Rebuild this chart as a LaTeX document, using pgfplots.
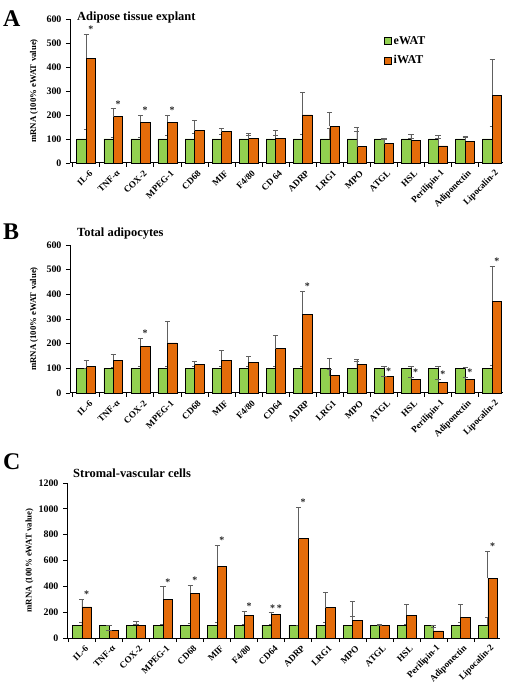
\documentclass[border=0pt]{standalone}
\usepackage{fontspec}
\setmainfont{Liberation Serif}
\usepackage{pgfplots}
\usepackage{pgfplotstable}
\pgfplotsset{compat=1.18}
\definecolor{egreen}{HTML}{92D050}
\definecolor{iorange}{HTML}{E46C0A}
\definecolor{errgray}{HTML}{606060}

\pgfplotstableread{
x e ee i ie
0 100 40 437 100
1 100 8 193 33
2 100 5 170 30
3 100 17 170 30
4 100 22 135 41
5 100 20 130 15
6 100 17 102 20
7 100 17 104 31
8 100 20 200 94
9 100 45 153 60
10 100 50 68 65
11 100 3 80 19
12 100 2 94 24
13 100 16 71 30
14 100 13 90 18
15 100 52 283 150
}\tabA

\pgfplotstableread{
x e ee i ie
0 100 0 107 26
1 100 3 132 25
2 100 8 190 32
3 100 10 203 87
4 100 8 115 15
5 100 7 132 40
6 100 10 124 25
7 100 8 180 52
8 100 7 320 93
9 100 41 70 25
10 100 38 116 12
11 100 8 68 0
12 100 7 56 7
13 100 7 43 14
14 100 2 56 7
15 100 12 372 143
}\tabB

\pgfplotstableread{
x e ee i ie
0 100 20 240 60
1 97 0 60 0
2 100 5 100 30
3 100 8 300 97
4 100 12 348 62
5 100 20 555 160
6 100 3 175 33
7 100 3 185 10
8 100 0 770 243
9 100 20 235 120
10 100 70 138 145
11 100 3 95 0
12 100 7 175 85
13 100 0 55 30
14 100 25 160 98
15 100 58 462 211
}\tabC

\pgfplotsset{
  panel/.style={
    scale only axis,
    width=433bp,
    anchor=south west,
    axis x line*=bottom,
    axis y line*=left,
    axis line style={-, line width=1bp, black},
    xmin=-0.6, xmax=15.4,
    ymin=0,
    xtick={0,...,15},
    minor xtick={-0.5,0.5,...,15.5},
    tick align=outside,
    major tick length=4bp,
    minor tick length=4bp,
    every tick/.style={black, line width=0.9bp},
    every major x tick/.append style={draw=none},
    /pgf/number format/assume math mode=true,
    /pgf/number format/1000 sep={},
    yticklabel style={font=\bfseries\fontsize{10}{10}\selectfont, xshift=-1bp},
    xticklabel style={font=\bfseries\fontsize{9.2}{10}\selectfont, rotate=45, anchor=east, inner sep=1bp, yshift=-7bp, xshift=1bp},
    ylabel={mRNA (100\% eWAT value)},
    every axis y label/.style={at={(axis description cs:-0.066,0.5)}, rotate=90, anchor=south, font=\bfseries\fontsize{8.8}{10}\selectfont},
    bar width=0.35,
    clip=false,
  },
  ebars/.style={
    error bars/.cd, y dir=plus, y explicit,
    error bar style={color=errgray, line width=0.7bp},
    error mark options={rotate=90, mark size=2.6bp, line width=0.7bp, color=errgray},
  },
  stars/.style={
    draw=none, mark=none, forget plot,
    nodes near coords, point meta=explicit symbolic,
    every node near coord/.style={anchor=south, inner sep=1.5bp, font=\bfseries\fontsize{10}{10}\selectfont, text=black!85},
  },
}

\begin{document}
\begin{tikzpicture}
\path[use as bounding box] (0bp,0bp) rectangle (510bp,692bp);

% Panel letters and titles
\node[anchor=base west, inner sep=0, font=\bfseries\fontsize{24}{24}\selectfont] at (3bp,665bp) {A};
\node[anchor=base west, inner sep=0, font=\bfseries\fontsize{12.5}{13}\selectfont] at (77bp,671bp) {Adipose tissue explant};
\node[anchor=base west, inner sep=0, font=\bfseries\fontsize{24}{24}\selectfont] at (3bp,452bp) {B};
\node[anchor=base west, inner sep=0, font=\bfseries\fontsize{12.5}{13}\selectfont] at (77bp,455bp) {Total adipocytes};
\node[anchor=base west, inner sep=0, font=\bfseries\fontsize{24}{24}\selectfont] at (3bp,222bp) {C};
\node[anchor=base west, inner sep=0, font=\bfseries\fontsize{12.5}{13}\selectfont] at (73bp,214bp) {Stromal-vascular cells};

% Panel A
\begin{axis}[panel, at={(70bp,529bp)}, height=144bp, ymax=600, ytick={0,100,...,600},
  xticklabels={IL-6,TNF-α,COX-2,MPEG-1,CD68,MIF,F4/80,CD 64,ADRP,LRG1,MPO,ATGL,HSL,Perilipin-1,Adiponectin,Lipocalin-2},
  legend style={at={(rel axis cs:0.725,0.895)}, anchor=north west, draw=none, fill=none,
    font=\bfseries\fontsize{12}{13}\selectfont, row sep=6bp, inner sep=0pt},
  legend cell align=left,
  legend image code/.code={\draw[#1,draw=black,line width=0.6bp] (0bp,-3.5bp) rectangle (7bp,3.5bp);},
]
\addplot[ybar, bar shift=-0.175, fill=egreen, draw=black, line width=0.6bp, ebars] table[x=x, y=e, y error=ee] {\tabA};
\addplot[ybar, bar shift=0.175, fill=iorange, draw=black, line width=0.6bp, ebars] table[x=x, y=i, y error=ie] {\tabA};
\legend{eWAT,iWAT}
\addplot[stars] coordinates {(0.175,537)[*] (1.175,226)[*] (2.175,200)[*] (3.175,200)[*]};
\end{axis}

% Panel B
\begin{axis}[panel, at={(70bp,299bp)}, height=148bp, ymax=600, ytick={0,100,...,600},
  xticklabels={IL-6,TNF-α,COX-2,MPEG-1,CD68,MIF,F4/80,CD64,ADRP,LRG1,MPO,ATGL,HSL,Perilipin-1,Adiponectin,Lipocalin-2},
]
\addplot[ybar, bar shift=-0.175, fill=egreen, draw=black, line width=0.6bp, ebars] table[x=x, y=e, y error=ee] {\tabB};
\addplot[ybar, bar shift=0.175, fill=iorange, draw=black, line width=0.6bp, ebars] table[x=x, y=i, y error=ie] {\tabB};
\addplot[stars] coordinates {(2.175,222)[*] (8.175,413)[*] (11.175,70)[*] (12.175,63)[*] (13.175,57)[*] (14.175,63)[*] (15.175,515)[*]};
\end{axis}

% Panel C
\begin{axis}[panel, at={(67bp,54bp)}, height=155bp, ymax=1200, ytick={0,200,...,1200},
  xmin=-0.55, xmax=15.45,
  every axis y label/.style={at={(axis description cs:-0.069,0.5)}, rotate=90, anchor=south, font=\bfseries\fontsize{8.8}{10}\selectfont},
  xticklabels={IL-6,TNF-α,COX-2,MPEG-1,CD68,MIF,F4/80,CD64,ADRP,LRG1,MPO,ATGL,HSL,Perilipin-1,Adiponectin,Lipocalin-2},
]
\addplot[ybar, bar shift=-0.175, fill=egreen, draw=black, line width=0.6bp, ebars] table[x=x, y=e, y error=ee] {\tabC};
\addplot[ybar, bar shift=0.175, fill=iorange, draw=black, line width=0.6bp, ebars] table[x=x, y=i, y error=ie] {\tabC};
\addplot[stars] coordinates {(0.175,300)[*] (3.175,397)[*] (4.175,410)[*] (5.175,715)[*] (6.175,208)[*] (7.175,195)[*\,*] (8.175,1013)[*] (15.175,673)[*]};
\end{axis}
\end{tikzpicture}
\end{document}
